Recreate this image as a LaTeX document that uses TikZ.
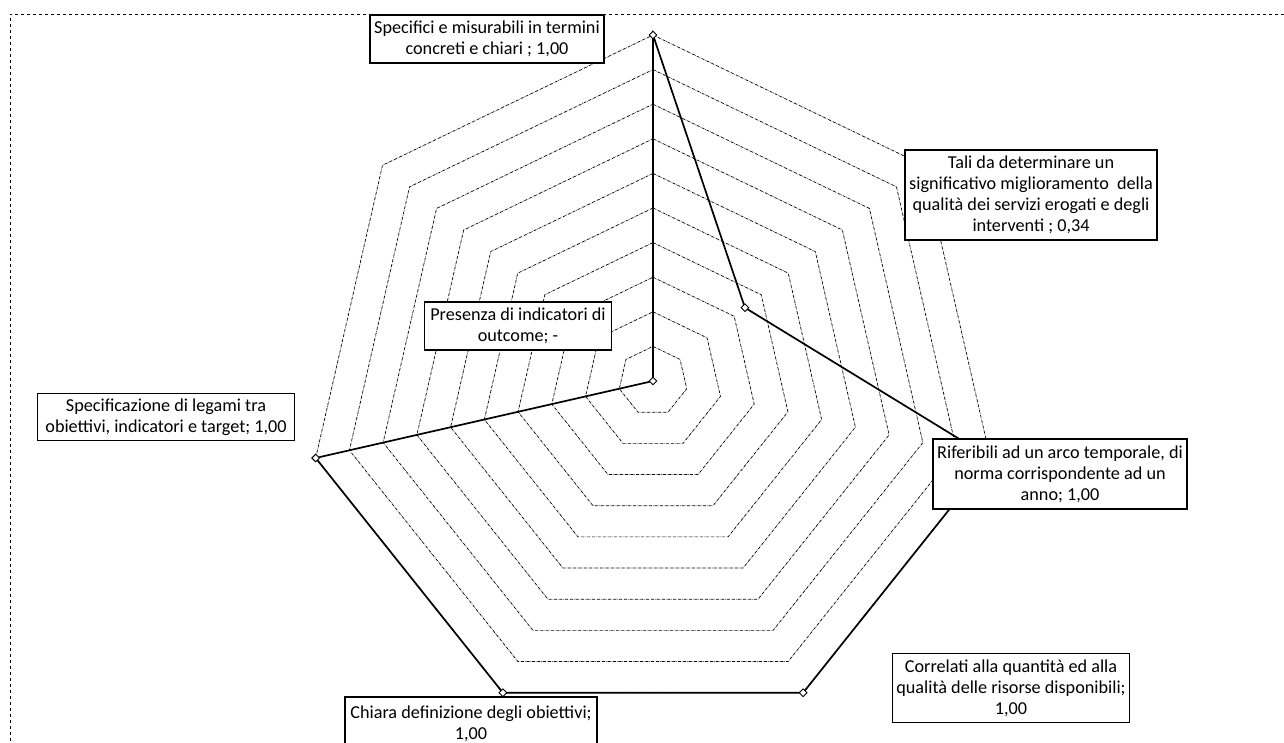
\documentclass[tikz,border=0pt]{standalone}
\usepackage{fontspec}
\setmainfont{Carlito}
\usetikzlibrary{shapes.geometric}

\begin{document}
\begin{tikzpicture}[
			x=1pt, y=-1pt,
			callout/.style={rectangle, draw=black, line width=1.5pt, fill=white, inner sep=1pt, align=center, font=\fontsize{18.2}{21}\selectfont},
			ring/.style={densely dashdotted, line width=0.7pt, black},
			series/.style={line width=1.7pt, black},
			marker/.style={diamond, draw=black, fill=white, line width=0.9pt, inner sep=0pt, minimum size=8pt},
			frame/.style={dashed, line width=0.7pt}
			]
			\useasboundingbox (0,0) rectangle (1284,742);
			
			% Frame
			\draw[frame] (1284,14) -- (10,14) -- (10,742);
			
			% Grid
			\begin{scope}[shift={(653,381)}]
				\foreach \i in {1,...,10} {
					\pgfmathsetmacro{\r}{34.6*\i}
					\draw[ring] (-90:\r) \foreach \k in {1,...,6} { -- ({-90+\k*360/7}:\r) } -- cycle;
				}
				
				% Data points
				\coordinate (p0) at (-90:346);
				\coordinate (p1) at ({-90+1*360/7}:117.6);
				\coordinate (p2) at ({-90+2*360/7}:346);
				\coordinate (p3) at ({-90+3*360/7}:346);
				\coordinate (p4) at ({-90+4*360/7}:346);
				\coordinate (p5) at ({-90+5*360/7}:346);
				\coordinate (p6) at (0,0);
			\end{scope}
			
			% Series
			\draw[series] (p0) -- (p1) -- (p2) -- (p3) -- (p4) -- (p5) -- (p6) -- cycle;
			\foreach \p in {0,...,6}
				\node[marker] (m\p) at (p\p) {};
			
			% Labels
			\node[callout, minimum width=234pt, minimum height=48pt] (specifici) at (487,39) {Specifici e misurabili in termini\\concreti e chiari ; 1,00};
			\node[callout, minimum width=252pt, minimum height=90pt] (tali) at (1031,195) {Tali da determinare un\\significativo miglioramento\ \ della\\qualità dei servizi erogati e degli\\interventi ; 0,34};
			\node[callout, minimum width=254pt, minimum height=70pt] (riferibili) at (1060,474) {Riferibili ad un arco temporale, di\\norma corrispondente ad un\\anno; 1,00};
			\node[callout, minimum width=237pt, minimum height=69pt] (correlati) at (1011,688) {Correlati alla quantità ed alla\\qualità delle risorse disponibili;\\1,00};
			\node[callout, minimum width=252pt, minimum height=54pt] (chiara) at (471,724) {Chiara definizione degli obiettivi;\\1,00};
			\node[callout, minimum width=257pt, minimum height=47pt] (specificazione) at (166,417) {Specificazione di legami tra\\obiettivi, indicatori e target; 1,00};
			\node[callout, minimum width=187pt, minimum height=48pt] (presenza) at (518,326) {Presenza di indicatori di\\outcome; -};
		\end{tikzpicture}
\end{document}
